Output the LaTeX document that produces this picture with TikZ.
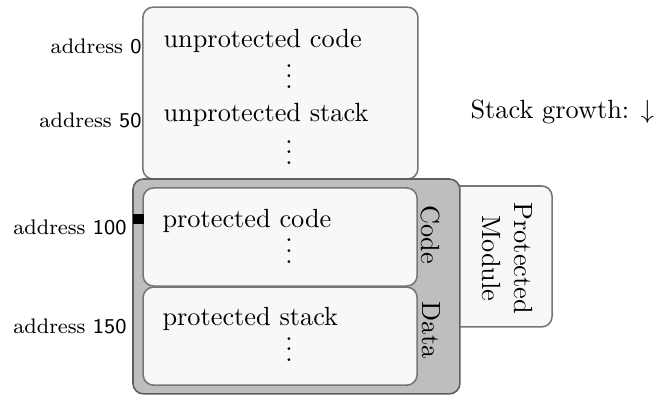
\documentclass[tikz,border=0pt]{standalone}
\usetikzlibrary{positioning}
\definecolor{paper}{HTML}{F8F8F8}
\definecolor{edge}{HTML}{767676}
\definecolor{shade}{HTML}{BEBEBE}
\definecolor{shadeedge}{HTML}{5E5E5E}
\tikzset{
  mem/.style={draw=edge, semithick, rounded corners=4pt, fill=paper, inner sep=0pt},
  pmod/.style={draw=shadeedge, semithick, rounded corners=4pt, fill=shade, inner sep=0pt},
  txt/.style={anchor=base west, inner sep=0pt},
  dots/.style={anchor=base, inner sep=0pt},
  side/.style={rotate=-90, inner sep=0pt, align=center},
  addr/.style={anchor=east, inner sep=0pt, font=\footnotesize},
}
\begin{document}
\begin{tikzpicture}[x=1pt, y=1pt]
  \useasboundingbox (0,0) rectangle (249.4,150.2);
  % memory outside the module
  \node[mem, minimum width=104.6pt, minimum height=65.4pt] (unprot) at (106.6,114.8) {};
  \node[txt] (ucode) at (62.0,132.2) {unprotected code};
  \node[dots] (udots1) at (109.9,116.7) {$\vdots$};
  \node[txt] (ustack) at (62.0,104.0) {unprotected stack};
  \node[dots] (udots2) at (109.9,87.8) {$\vdots$};
  % the protected module, tab first so the gray frame covers it
  \node[mem, minimum width=42.6pt, minimum height=53.6pt] (tab) at (188.6,52.7) {};
  \node[side] (tablab) at (193.0,52.0) {Protected\\Module};
  \node[pmod, minimum width=124.3pt, minimum height=81.7pt] (pm) at (112.7,41.3) {};
  \node[mem, minimum width=104.2pt, minimum height=37.3pt] (pcode) at (106.5,60.1) {};
  \node[mem, minimum width=104.2pt, minimum height=37.3pt] (pstack) at (106.5,22.4) {};
  \node[txt] (pcodetxt) at (61.6,63.8) {protected code};
  \node[dots] (pdots1) at (109.9,50.2) {$\vdots$};
  \node[txt] (pstacktxt) at (61.6,26.6) {protected stack};
  \node[dots] (pdots2) at (109.9,12.9) {$\vdots$};
  \node[side] (codelab) at (163.8,61.0) {Code};
  \node[side] (datalab) at (163.8,24.7) {Data};
  % entry point
  \node[fill=black, minimum size=4pt, inner sep=0pt] (entry) at (52.7,67.0) {};
  % addresses
  \node[addr] (a0) at (54.0,132.5) {address \textsf{0}};
  \node[addr] (a50) at (54.0,104.4) {address \textsf{50}};
  \node[addr] (a100) at (48.3,63.7) {address \textsf{100}};
  \node[addr] (a150) at (48.3,26.2) {address \textsf{150}};
  \node[txt] (growth) at (178.7,105.3) {Stack growth: $\downarrow$};
\end{tikzpicture}
\end{document}
